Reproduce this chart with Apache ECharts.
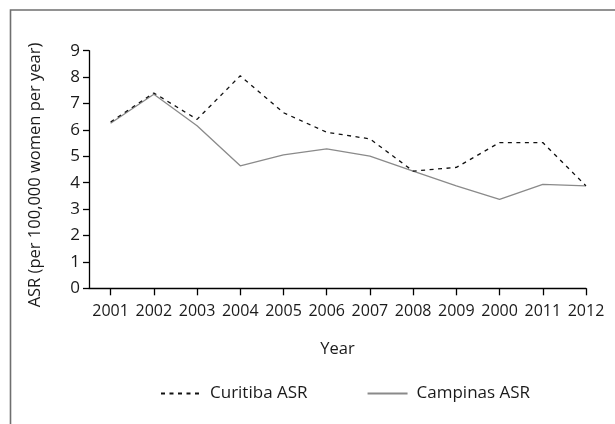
<!DOCTYPE html>
<html>
<head>
<meta charset="utf-8">
<script src="https://cdn.jsdelivr.net/npm/echarts@6/dist/echarts.min.js"></script>
<style>
html,body{margin:0;padding:0;background:#fff;}
#c{width:615px;height:424px;}
</style>
</head>
<body>
<div id="c"></div>
<script>
var yearLabels = ['2001','2002','2003','2004','2005','2006','2007','2008','2009','2000','2011','2012'];
var curitibaASR = [6.3, 7.4, 6.4, 8.05, 6.65, 5.91, 5.66, 4.44, 4.58, 5.52, 5.52, 3.88];
var campinasASR = [6.25, 7.35, 6.16, 4.64, 5.05, 5.28, 5.01, 4.44, 3.88, 3.37, 3.94, 3.88];
var yTicks = [0,1,2,3,4,5,6,7,8,9];

var positions = yearLabels.map(function(_, i){ return i + 1; });
function pairs(arr){ return arr.map(function(v, i){ return [i + 1, v]; }); }

var FONT = 'Open Sans';
var chart = echarts.init(document.getElementById('c'), null, {renderer:'canvas'});
chart.setOption({
  animation: false,
  backgroundColor: '#fff',
  textStyle: {fontFamily: FONT, color: '#1a1a1a'},
  graphic: [{
    type: 'rect', shape: {x: 10.5, y: 10, width: 700, height: 500},
    style: {fill: 'none', stroke: '#6f6f6f', lineWidth: 1.6}, silent: true
  }],
  grid: {left: 89, right: 29, top: 50.7, bottom: 135.7, containLabel: false},
  legend: {
    bottom: 22, left: 160, padding: 0,
    itemWidth: 40, itemHeight: 10, itemGap: 59,
    itemStyle: {opacity: 0},
    textStyle: {fontFamily: FONT, fontSize: 17, color: '#1a1a1a', padding: [0,0,0,4]},
    data: [
      {name: 'Curitiba ASR'},
      {name: 'Campinas ASR'}
    ]
  },
  xAxis: {
    type: 'value', min: 0.5, max: 12,
    name: 'Year', nameLocation: 'middle', nameGap: 52,
    nameTextStyle: {fontFamily: FONT, fontSize: 16.5, color: '#1a1a1a'},
    axisLine: {show: true, onZero: false, lineStyle: {color: '#000', width: 1.3}},
    axisTick: {show: true, length: 7, lineStyle: {color: '#000', width: 1.3}, customValues: positions},
    axisLabel: {show: true, margin: 15, fontSize: 16, color: '#1a1a1a', fontFamily: FONT,
      customValues: positions,
      formatter: function(v){ return yearLabels[Math.round(v) - 1] || ''; }},
    splitLine: {show: false}
  },
  yAxis: {
    type: 'value', min: yTicks[0], max: yTicks[yTicks.length - 1], interval: 1,
    name: 'ASR (per 100,000 women per year)', nameLocation: 'middle', nameGap: 45,
    nameTextStyle: {fontFamily: FONT, fontSize: 16.5, color: '#1a1a1a', padding: [0, 11, 0, 0]},
    axisLine: {show: true, lineStyle: {color: '#000', width: 1.3}},
    axisTick: {show: true, length: 6, lineStyle: {color: '#000', width: 1.3}},
    axisLabel: {margin: 9, fontSize: 17, color: '#1a1a1a', fontFamily: FONT},
    splitLine: {show: false}
  },
  series: [
    {
      name: 'Curitiba ASR', type: 'line', data: pairs(curitibaASR),
      symbol: 'none', showSymbol: false,
      lineStyle: {color: '#111', width: 1.3, type: [4, 4.5]},
      itemStyle: {color: '#111'},
      z: 3
    },
    {
      name: 'Campinas ASR', type: 'line', data: pairs(campinasASR),
      symbol: 'none', showSymbol: false,
      lineStyle: {color: '#8a8a8a', width: 1.3, type: 'solid'},
      itemStyle: {color: '#8a8a8a'},
      z: 2
    }
  ]
});
</script>
</body>
</html>
